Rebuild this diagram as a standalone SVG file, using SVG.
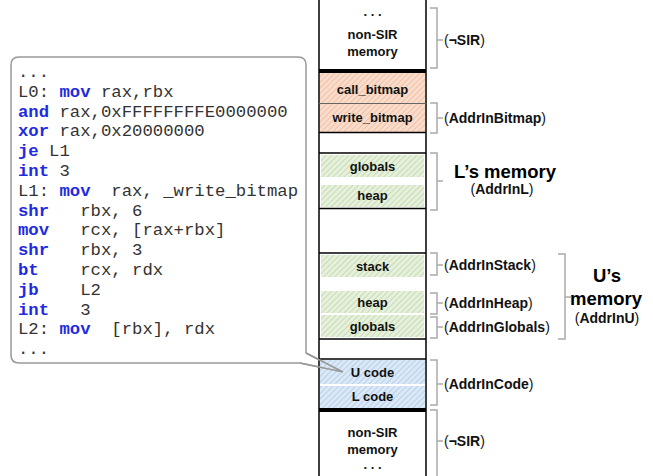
<svg xmlns="http://www.w3.org/2000/svg" width="653" height="476" viewBox="0 0 653 476">
<defs>
  <pattern id="hatchRed" patternUnits="userSpaceOnUse" width="4" height="4" patternTransform="rotate(45)">
    <rect width="4" height="4" fill="#f9dccb"/>
    <line x1="0" y1="0" x2="0" y2="4" stroke="#eeb596" stroke-width="1.4"/>
  </pattern>
  <pattern id="hatchGreen" patternUnits="userSpaceOnUse" width="4" height="4" patternTransform="rotate(45)">
    <rect width="4" height="4" fill="#e6f0dc"/>
    <line x1="0" y1="0" x2="0" y2="4" stroke="#b9d4a0" stroke-width="1.4"/>
  </pattern>
  <pattern id="hatchBlue" patternUnits="userSpaceOnUse" width="4" height="4" patternTransform="rotate(45)">
    <rect width="4" height="4" fill="#dbe8f6"/>
    <line x1="0" y1="0" x2="0" y2="4" stroke="#a8c6e8" stroke-width="1.4"/>
  </pattern>
</defs>
<style>
  .code { font-family: "Liberation Mono", "Courier New", monospace; font-size: 17.3px; fill: #333; white-space: pre; }
  .kw { font-weight: bold; fill: #1f2be0; }
  .cell { font-family: "Liberation Sans", Arial, sans-serif; font-size: 13px; font-weight: bold; fill: #111; text-anchor: middle; }
  .lbl { font-family: "Liberation Sans", Arial, sans-serif; font-size: 14px; font-weight: bold; fill: #111; }
  .par { font-weight: normal; }
  .big { font-family: "Liberation Sans", Arial, sans-serif; font-size: 18.5px; font-weight: bold; fill: #000; text-anchor: middle; }
  .sub { font-family: "Liberation Sans", Arial, sans-serif; font-size: 14px; font-weight: bold; fill: #111; text-anchor: middle; }
  .brk { fill: none; stroke: #aaa; stroke-width: 1.5; }
  .hl { stroke: #000; stroke-width: 1.5; }
  .thick { stroke: #000; stroke-width: 4; }
  .callout { fill: #fff; stroke: #999; stroke-width: 1.5; }
</style>

<!-- callout body -->
<g id="callout">
  <path class="callout" d="M19,57 H298 Q306,57 306,65 V353 L343,372 L300,363 H19 Q11,363 11,355 V65 Q11,57 19,57 Z"/>
  <text class="code" x="18" y="77">...</text>
  <text class="code" x="18" y="96.8">L0: <tspan class="kw">mov</tspan> rax,rbx</text>
  <text class="code" x="18" y="116.6"><tspan class="kw">and</tspan> rax,0xFFFFFFFFE0000000</text>
  <text class="code" x="18" y="136.4"><tspan class="kw">xor</tspan> rax,0x20000000</text>
  <text class="code" x="18" y="156.2"><tspan class="kw">je</tspan> L1</text>
  <text class="code" x="18" y="176"><tspan class="kw">int</tspan> 3</text>
  <text class="code" x="18" y="195.8">L1: <tspan class="kw">mov</tspan>  rax, _write_bitmap</text>
  <text class="code" x="18" y="215.6"><tspan class="kw">shr</tspan>   rbx, 6</text>
  <text class="code" x="18" y="235.4"><tspan class="kw">mov</tspan>   rcx, [rax+rbx]</text>
  <text class="code" x="18" y="255.2"><tspan class="kw">shr</tspan>   rbx, 3</text>
  <text class="code" x="18" y="275"><tspan class="kw">bt</tspan>    rcx, rdx</text>
  <text class="code" x="18" y="294.8"><tspan class="kw">jb</tspan>    L2</text>
  <text class="code" x="18" y="314.6"><tspan class="kw">int</tspan>   3</text>
  <text class="code" x="18" y="334.4">L2: <tspan class="kw">mov</tspan>  [rbx], rdx</text>
  <text class="code" x="18" y="354.2">...</text>
</g>

<!-- memory column -->
<g id="column">
  <rect x="319" y="0" width="107" height="476" fill="#fff"/>
  <line class="hl" x1="319" y1="0" x2="319" y2="476"/>
  <line class="hl" x1="426" y1="0" x2="426" y2="476"/>
</g>

<g id="nonsir-top">
  <text class="cell" x="372.5" y="16">. . .</text>
  <text class="cell" x="372.5" y="39">non-SIR</text>
  <text class="cell" x="372.5" y="56">memory</text>
</g>
<line class="thick" x1="319" y1="71" x2="426" y2="71"/>

<g id="call_bitmap">
  <rect x="320" y="73" width="105" height="30" fill="url(#hatchRed)"/>
  <text class="cell" x="372.5" y="94">call_bitmap</text>
</g>
<line x1="319" y1="103.5" x2="426" y2="103.5" stroke="#666" stroke-width="1"/>
<g id="write_bitmap">
  <rect x="320" y="104" width="105" height="28" fill="url(#hatchRed)"/>
  <text class="cell" x="372.5" y="122">write_bitmap</text>
</g>
<line class="hl" x1="319" y1="132.5" x2="426" y2="132.5"/>
<line class="hl" x1="319" y1="153" x2="426" y2="153"/>

<g id="L-globals">
  <rect x="321" y="155" width="103" height="22" fill="url(#hatchGreen)"/>
  <text class="cell" x="372.5" y="171">globals</text>
</g>
<g id="L-heap">
  <rect x="321" y="185" width="103" height="22" fill="url(#hatchGreen)"/>
  <text class="cell" x="372.5" y="200">heap</text>
</g>
<line class="hl" x1="319" y1="208.5" x2="426" y2="208.5"/>
<line class="hl" x1="319" y1="253" x2="426" y2="253"/>

<g id="U-stack">
  <rect x="321" y="255" width="103" height="22" fill="url(#hatchGreen)"/>
  <text class="cell" x="372.5" y="270.5">stack</text>
</g>
<g id="U-heap">
  <rect x="321" y="291" width="103" height="22" fill="url(#hatchGreen)"/>
  <text class="cell" x="372.5" y="306.5">heap</text>
</g>
<g id="U-globals">
  <rect x="321" y="315" width="103" height="22" fill="url(#hatchGreen)"/>
  <text class="cell" x="372.5" y="331">globals</text>
</g>
<line class="hl" x1="319" y1="339" x2="426" y2="339"/>
<line class="hl" x1="319" y1="359" x2="426" y2="359"/>

<g id="U-code">
  <rect x="320" y="360" width="105" height="24" fill="url(#hatchBlue)"/>
  <text class="cell" x="372.5" y="376.5">U code</text>
</g>
<g id="L-code">
  <rect x="320" y="386" width="105" height="22" fill="url(#hatchBlue)"/>
  <text class="cell" x="372.5" y="400.5">L code</text>
</g>
<line class="thick" x1="319" y1="410" x2="426" y2="410"/>

<g id="nonsir-bottom">
  <text class="cell" x="372.5" y="437">non-SIR</text>
  <text class="cell" x="372.5" y="454">memory</text>
  <text class="cell" x="372.5" y="469">. . .</text>
</g>

<!-- connectors: callout tail and brackets -->
<g id="connectors">
  <polyline points="306,353 343,372 300,363" fill="none" stroke="#999" stroke-width="1.5"/>
  <path class="brk" d="M430,8 H437 V68 H430 M437,40 H443"/>
  <path class="brk" d="M430,103 H437 V133 H430 M437,118 H443"/>
  <path class="brk" d="M430,153 H437 V210 H430 M437,181 H443"/>
  <path class="brk" d="M430,253 H437 V275 H430 M437,265 H443"/>
  <path class="brk" d="M430,293 H437 V314 H430 M437,303 H443"/>
  <path class="brk" d="M430,317 H437 V338 H430 M437,327 H443"/>
  <path class="brk" d="M558,254 H565 V339 H558 M565,297 H571"/>
  <path class="brk" d="M430,360 H437 V405 H430 M437,384 H443"/>
  <path class="brk" d="M430,410 H437 V480 M437,441 H443"/>
</g>

<g id="labels">
  <text class="lbl" x="444" y="45"><tspan class="par">(</tspan>¬SIR<tspan class="par">)</tspan></text>
  <text class="lbl" x="444" y="123"><tspan class="par">(</tspan>AddrInBitmap<tspan class="par">)</tspan></text>
  <text class="big" x="505" y="178">L’s memory</text>
  <text class="sub" x="502" y="194"><tspan class="par">(</tspan>AddrInL<tspan class="par">)</tspan></text>
  <text class="lbl" x="444" y="270"><tspan class="par">(</tspan>AddrInStack<tspan class="par">)</tspan></text>
  <text class="lbl" x="444" y="308"><tspan class="par">(</tspan>AddrInHeap<tspan class="par">)</tspan></text>
  <text class="lbl" x="444" y="332"><tspan class="par">(</tspan>AddrInGlobals<tspan class="par">)</tspan></text>
  <text class="big" x="607" y="282">U’s</text>
  <text class="big" x="606" y="305">memory</text>
  <text class="sub" x="607" y="323"><tspan class="par">(</tspan>AddrInU<tspan class="par">)</tspan></text>
  <text class="lbl" x="444" y="389"><tspan class="par">(</tspan>AddrInCode<tspan class="par">)</tspan></text>
  <text class="lbl" x="444" y="446"><tspan class="par">(</tspan>¬SIR<tspan class="par">)</tspan></text>
</g>
</svg>
